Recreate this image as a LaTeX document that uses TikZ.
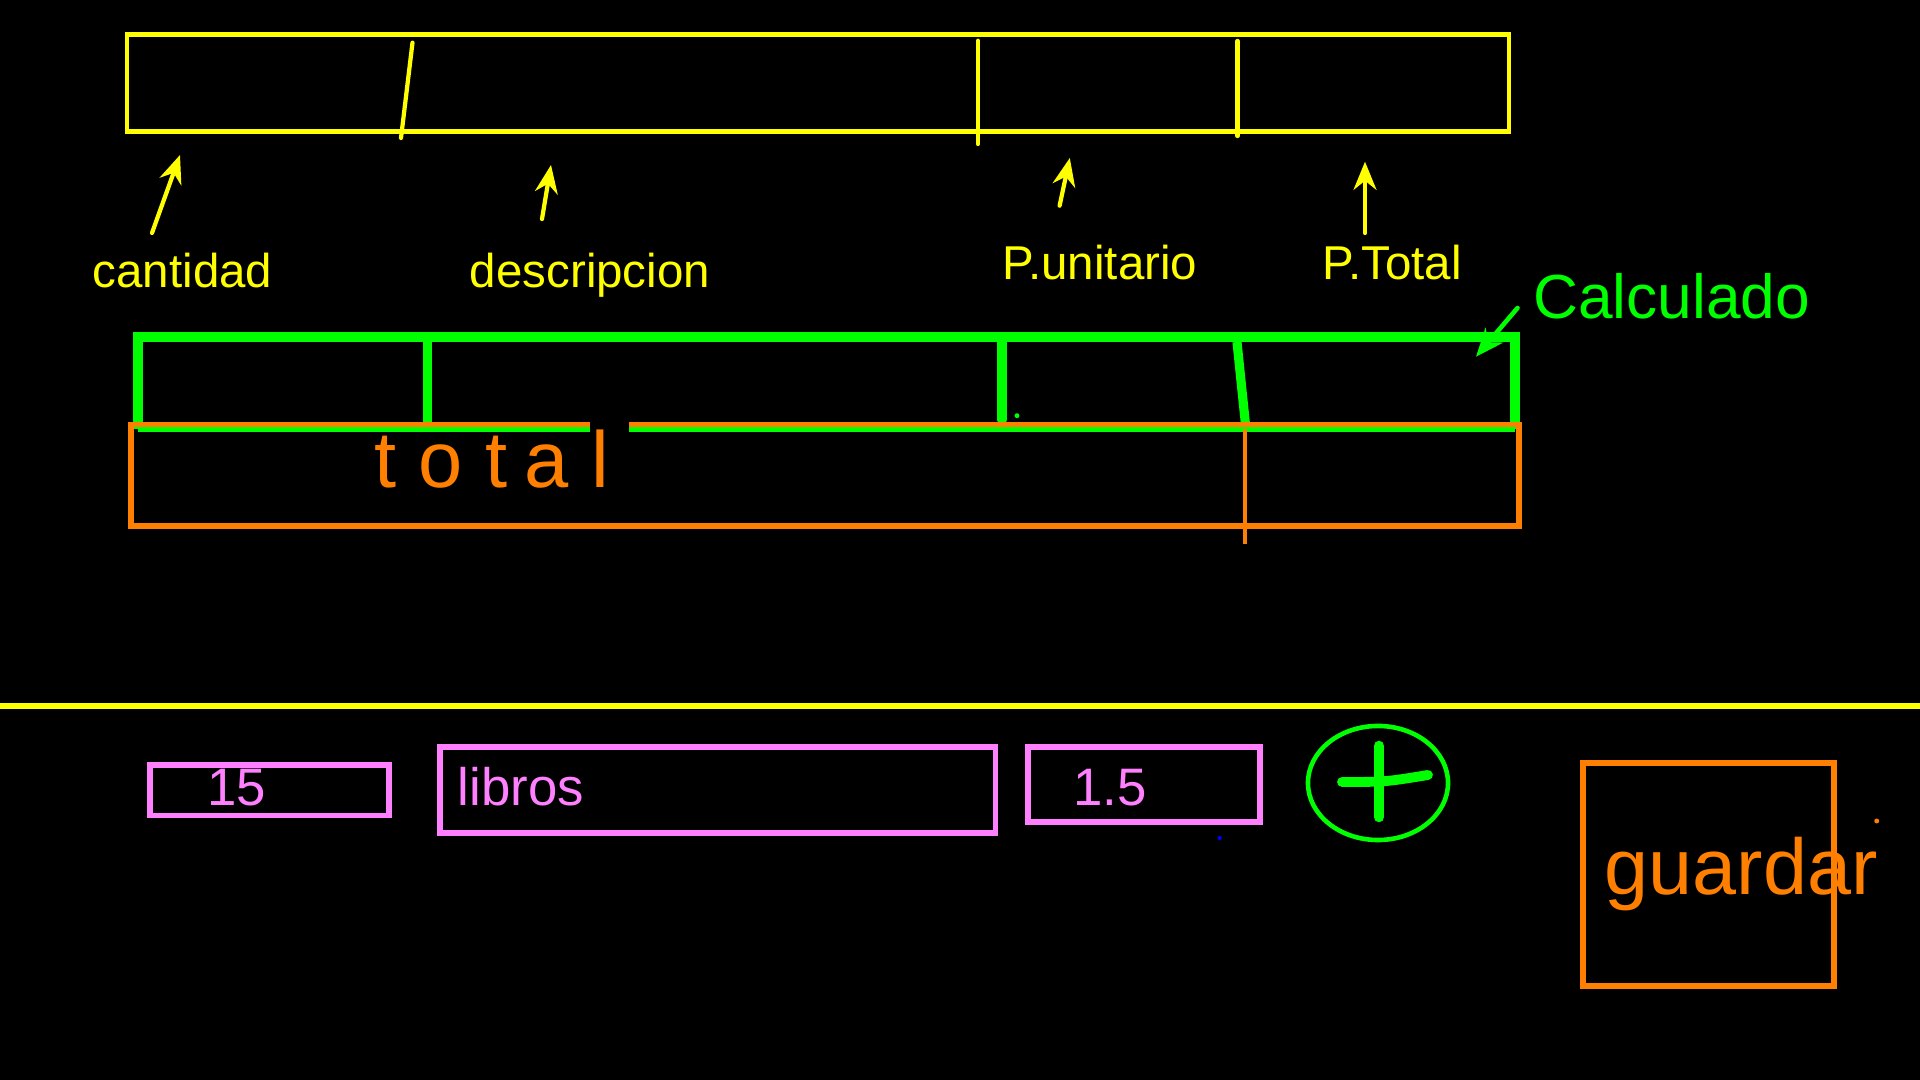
\documentclass[tikz,border=0pt]{standalone}
\usepackage{fontspec}
\setmainfont{Liberation Sans}
\usepackage{xcolor}
\usetikzlibrary{arrows.meta}

\definecolor{hdYellow}{HTML}{FFFF00}
\definecolor{hdGreen}{HTML}{00FF00}
\definecolor{hdOrange}{HTML}{FF8000}
\definecolor{hdPink}{HTML}{FF80FF}
\definecolor{hdBlue}{HTML}{0000FF}

\begin{document}
\begin{tikzpicture}[x=0.01cm, y=-0.01cm]

  %% Background and frame
  \fill[black] (0,0) rectangle (1920,1080);
  \useasboundingbox (0,0) rectangle (1920,1080);

  \tikzset{
    ybox/.style={draw=hdYellow, line width=1.4pt},
    ydiv/.style={draw=hdYellow, line width=1.2pt, line cap=round},
    yarr/.style={draw=hdYellow, line width=1.2pt, line cap=round,
      -{Stealth[length=8pt, width=6.5pt]}},
    ylabel/.style={anchor=base, text=hdYellow, font=\fontsize{13.5}{16}\selectfont},
    gline/.style={draw=hdGreen, line width=2.6pt},
    obox/.style={draw=hdOrange, line width=1.6pt},
    pbox/.style={draw=hdPink, line width=1.6pt},
    ptext/.style={anchor=base, text=hdPink, font=\fontsize{15}{18}\selectfont}
  }

  %% Header row (yellow)
  \draw[ybox] (127,34.5) rectangle (1509,131.5);
  \draw[ydiv] (412.5,42.7) -- (401,138);
  \draw[ydiv] (978,40.7) -- (978,144);
  \draw[ydiv] (1237.5,41) -- (1237.5,136);

  \node[ylabel] (cantidad)    at (182.5,288) {cantidad};
  \node[ylabel] (descripcion) at (590,288)   {descripcion};
  \node[ylabel] (punitario)   at (1100,280)  {P.unitario};
  \node[ylabel] (ptotal)      at (1392,280)  {P.Total};

  \foreach \n/\tx/\ty/\hx/\hy in {cant/152/233/180/155, desc/542/219/551/165,
      unit/1059.6/205.7/1069.8/158, tot/1365/233/1365/161.7}{
    \coordinate (t\n) at (\tx,\ty);
    \coordinate (h\n) at (\hx,\hy);
    \draw[yarr] (t\n) -- (h\n);
  }

  %% Calculated row (green)
  \node[anchor=base, text=hdGreen, font=\fontsize{17.7}{21}\selectfont]
    (calculado) at (1671.5,319) {Calculado};
  \coordinate (tcalc) at (1517.5,308);
  \coordinate (hcalc) at (1476,356.7);
  \draw[draw=hdGreen, line width=1.3pt, line cap=round,
    -{Stealth[length=8pt, width=6.5pt]}] (tcalc) -- (hcalc);

  \draw[gline, line width=3pt] (133,337) -- (1520,337);
  \draw[gline] (138,337) -- (138,429.5);
  \draw[gline] (1515,337) -- (1515,429.5);
  \draw[gline] (427.5,342) -- (427.5,429.5);
  \draw[gline, line cap=round] (1002,342) -- (1002,420);
  \draw[gline] (1237,342) -- (1246,429.5);
  \fill[hdGreen] (1017,415.7) circle [radius=0.7pt];

  %% Total row (orange)
  \draw[obox] (590,424.5) -- (131,424.5) -- (131,525.7) -- (1519,525.7)
    -- (1519,424.5) -- (629,424.5);
  \draw[gline, line width=1.4pt] (138,429.5) -- (590,429.5)
    (629,429.5) -- (1515,429.5);
  \draw[draw=hdOrange, line width=0.9pt] (1245,429) -- (1245,544);

  \foreach \x/\c [count=\i] in {386/t, 440.5/o, 497/t, 547/a, 600.6/l}{
    \node[anchor=base, text=hdOrange, font=\fontsize{22.6}{26}\selectfont]
      (total\i) at (\x,487.7) {\c};
  }

  %% Separator
  \draw[draw=hdYellow, line width=1.7pt] (0,706) -- (1920,706);

  %% Input fields (pink)
  \draw[pbox] (150,765) rectangle (389,815.5);
  \draw[pbox] (440,747) rectangle (995.5,833);
  \draw[pbox] (1028,747) rectangle (1260,822);
  \node[ptext] (cantval)  at (236.6,805.7) {15};
  \node[ptext] (descval)  at (521,805.7)   {libros};
  \node[ptext] (priceval) at (1110,805.7)  {1.5};
  \fill[hdBlue] (1219.6,838) circle [radius=0.6pt];

  %% Add button
  \draw[draw=hdGreen, line width=1.3pt] (1378,783) ellipse [x radius=0.70cm, y radius=0.57cm];
  \draw[draw=hdGreen, line width=3pt, line cap=round] (1379,746) -- (1379,817);
  \draw[draw=hdGreen, line width=2.8pt, line cap=round]
    (1342,782) .. controls (1385,782) .. (1428,775);

  %% Save button
  \draw[obox] (1583,763) rectangle (1834,985.7);
  \node[anchor=base, text=hdOrange, font=\fontsize{22.5}{27}\selectfont]
    (guardar) at (1741.3,894.3) {guardar};
  \fill[hdOrange] (1876.7,821) circle [radius=0.7pt];

\end{tikzpicture}
\end{document}
